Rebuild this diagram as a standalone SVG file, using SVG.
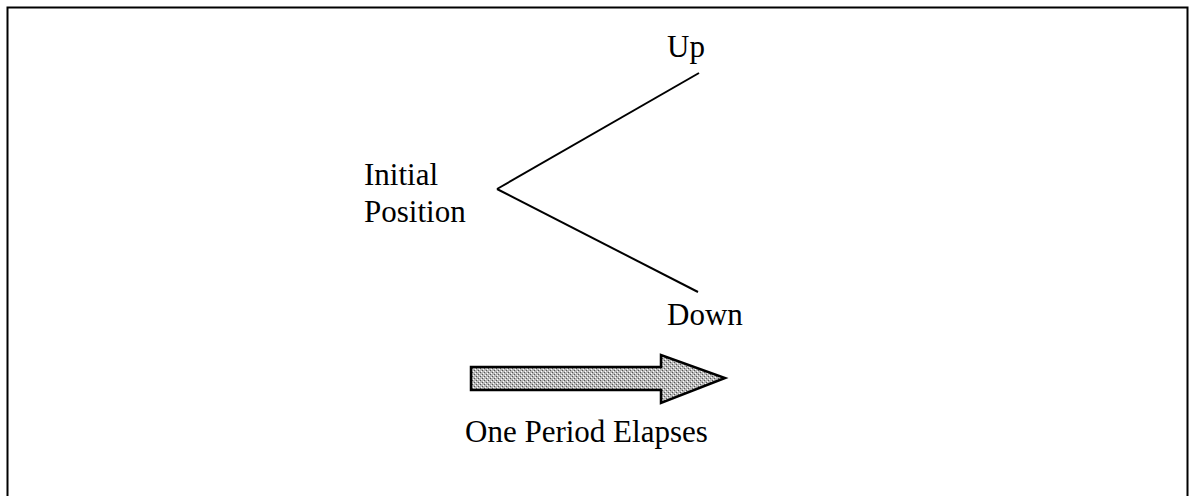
<svg xmlns="http://www.w3.org/2000/svg" width="1189" height="496" viewBox="0 0 1189 496">
<defs>
<pattern id="grain" width="4" height="4" patternUnits="userSpaceOnUse">
<rect width="4" height="4" fill="#b8b8b8"/>
<rect x="0" y="0" width="1" height="1" fill="#555"/>
<rect x="2" y="2" width="1" height="1" fill="#555"/>
<rect x="1" y="3" width="1" height="1" fill="#fff"/>
<rect x="3" y="1" width="1" height="1" fill="#fff"/>
</pattern>
</defs>
<style>
.t{font-family:"Liberation Serif","Times New Roman",serif;font-size:31px;fill:#000}
.ln{stroke:#000;stroke-width:2;fill:none}
</style>
<rect width="1189" height="496" fill="#fff"/>
<path d="M7.5,500 V7.5 H1187.5 V500" fill="none" stroke="#000" stroke-width="2"/>
<g id="connectors">
<line class="ln" x1="699" y1="73" x2="497" y2="189"/>
<line class="ln" x1="497" y1="189" x2="698" y2="292"/>
</g>
<g id="node-up"><text class="t" x="667" y="57">Up</text></g>
<g id="node-initial"><text class="t" x="364" y="185">Initial</text><text class="t" x="364" y="222">Position</text></g>
<g id="node-down"><text class="t" x="667" y="325">Down</text></g>
<g id="node-arrow">
<path d="M471,367 H661 V355 L725,378 L661,403 V390 H471 Z" fill="url(#grain)" stroke="#000" stroke-width="2.5" stroke-linejoin="miter"/>
<text class="t" x="465" y="442">One Period Elapses</text>
</g>
</svg>
